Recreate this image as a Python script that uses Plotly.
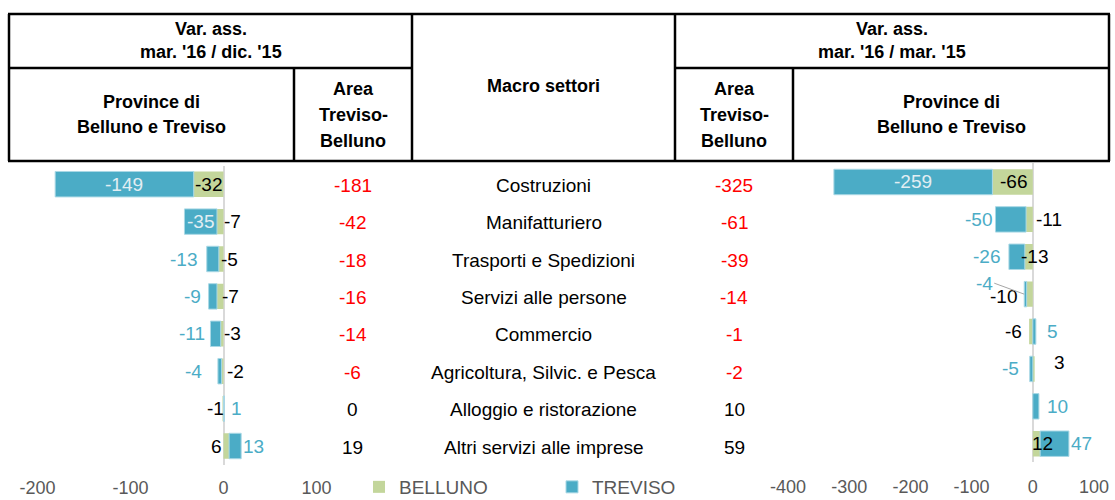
import plotly.graph_objects as go

W, H = 1115, 500

# ---------------- data ----------------
categories = [
    "Costruzioni",
    "Manifatturiero",
    "Trasporti e Spedizioni",
    "Servizi alle persone",
    "Commercio",
    "Agricoltura, Silvic. e Pesca",
    "Alloggio e ristorazione",
    "Altri servizi alle imprese",
]
belluno_dic = [-32, -7, -5, -7, -3, -2, -1, 6]
treviso_dic = [-149, -35, -13, -9, -11, -4, 1, 13]
belluno_mar = [-66, -11, -13, -10, -6, 3, 0, 12]
treviso_mar = [-259, -50, -26, -4, 5, -5, 10, 47]
area_dic = [b + t for b, t in zip(belluno_dic, treviso_dic)]
area_mar = [b + t for b, t in zip(belluno_mar, treviso_mar)]
left_ticks = [-200, -100, 0, 100]
right_ticks = [-400, -300, -200, -100, 0, 100]
series_names = ["BELLUNO", "TREVISO"]

# ---------------- styles ----------------
FONT = "Liberation Sans, Arial, sans-serif"
GREEN = "#C3D69B"
TEAL = "#4BACC6"
LIGHT = "#E2EEF3"
GREY = "#595959"
RED = "#FF0000"
FS = 19


def px(x):
    return x / W


def py(y):
    return 1 - y / H


# label placement: (reference point, xanchor, xshift, yshift)
LAB_L_B = [("zero", "right", -1, 0), ("zero", "left", -1, 0), ("zero", "left", -4, 0),
           ("zero", "left", -3, 0), ("zero", "left", -1, 0), ("zero", "left", 2, 0),
           ("zero", "right", 1, 0), ("zero", "right", -1, 0)]
LAB_L_T = [("mid", "center", 0, 0), ("mid", "center", 0, 0), ("end", "right", -9, 0),
           ("end", "right", -7, 0), ("end", "right", -4, 0), ("end", "right", -15, 0),
           ("end", "left", 6, 0), ("end", "left", 1, 0)]
LAB_R_B = [("zero", "right", -5, 0), ("zero", "left", 2, 0), ("zero", "center", 2, 0),
           ("zero", "right", -15, -2), ("end", "right", -6, 0), ("end", "left", 18, 6),
           ("zero", "left", 0, 0), ("zero", "left", -2, 0)]
LAB_R_T = [("mid", "center", 0, 0), ("end", "right", -2, 0), ("end", "right", -8, 0),
           ("leader", "right", -30, 11), ("end", "left", 10, 0), ("end", "right", -10, 0),
           ("end", "left", 7, 0), ("end", "left", 1, 0)]

fig = go.Figure()

for (bv, tv, xa, ya, show) in [(belluno_dic, treviso_dic, "x", "y", True),
                               (belluno_mar, treviso_mar, "x2", "y2", False)]:
    fig.add_trace(go.Bar(y=categories, x=bv, orientation="h", name=series_names[0],
                         marker=dict(color=GREEN, line=dict(width=0)),
                         xaxis=xa, yaxis=ya, showlegend=show, legendgroup="b"))
    fig.add_trace(go.Bar(y=categories, x=tv, orientation="h", name=series_names[1],
                         marker=dict(color=TEAL, line=dict(width=1, color="#A9D8E5")),
                         xaxis=xa, yaxis=ya, showlegend=show, legendgroup="t"))

annotations = []


def add_labels(bvals, tvals, xref, yref, spec_b, spec_t):
    for i, cat in enumerate(categories):
        b, t = bvals[i], tvals[i]
        b_start, b_end = 0, b
        if b != 0 and (b < 0) == (t < 0):
            t_start, t_end = b, b + t
        else:
            t_start, t_end = 0, t
        for val, st, en, spec, is_t in [(b, b_start, b_end, spec_b[i], False),
                                        (t, t_start, t_end, spec_t[i], True)]:
            if val == 0:
                continue
            ref, xanc, xs, ys = spec
            if is_t:
                col = LIGHT if ref == "mid" else TEAL
            else:
                col = "#000000"
            if ref == "leader":
                annotations.append(dict(
                    x=en, y=cat, xref=xref, yref=yref, text=str(val),
                    showarrow=True, arrowhead=0, arrowwidth=1, arrowcolor="#A6A6A6",
                    ax=xs, ay=-ys, xanchor="right", yanchor="middle", standoff=0,
                    font=dict(family=FONT, size=FS, color=col), borderpad=0))
                continue
            x = 0 if ref == "zero" else (en if ref == "end" else (st + en) / 2)
            annotations.append(dict(
                x=x, y=cat, xref=xref, yref=yref, text=str(val), showarrow=False,
                xanchor=xanc, yanchor="middle", xshift=xs, yshift=ys, borderpad=0,
                font=dict(family=FONT, size=FS, color=col)))


add_labels(belluno_dic, treviso_dic, "x", "y", LAB_L_B, LAB_L_T)
add_labels(belluno_mar, treviso_mar, "x2", "y2", LAB_R_B, LAB_R_T)

# middle columns
for i, cat in enumerate(categories):
    annotations.append(dict(x=px(352.5), y=cat, xref="paper", yref="y", text=str(area_dic[i]),
                            showarrow=False, xanchor="center", yanchor="middle", yshift=-1,
                            font=dict(family=FONT, size=FS, color=RED if area_dic[i] < 0 else "#000000")))
    annotations.append(dict(x=px(543.5), y=cat, xref="paper", yref="y", text=cat,
                            showarrow=False, xanchor="center", yanchor="middle", yshift=-1,
                            font=dict(family=FONT, size=FS, color="#000000")))
    annotations.append(dict(x=px(734), y=cat, xref="paper", yref="y", text=str(area_mar[i]),
                            showarrow=False, xanchor="center", yanchor="middle", yshift=-1,
                            font=dict(family=FONT, size=FS, color=RED if area_mar[i] < 0 else "#000000")))

# header table texts
header_texts = [
    ("Var. ass.", 210.5, 29), ("mar. '16 / dic. '15", 210.5, 52),
    ("Province di", 151.5, 102), ("Belluno e Treviso", 151.5, 127),
    ("Area", 353, 89), ("Treviso-", 353, 115), ("Belluno", 353, 141),
    ("Macro settori", 543.5, 86),
    ("Area", 734, 89), ("Treviso-", 734, 115), ("Belluno", 734, 141),
    ("Var. ass.", 892, 29), ("mar. '16 / mar. '15", 892, 52),
    ("Province di", 951, 102), ("Belluno e Treviso", 951, 127),
]
for txt, x, y in header_texts:
    annotations.append(dict(x=px(x), y=py(y), xref="paper", yref="paper", text="<b>%s</b>" % txt,
                            showarrow=False, xanchor="center", yanchor="middle",
                            font=dict(family=FONT, size=18, color="#000000")))

# header table lines
shapes = []
LW = 2.5


def hline(x0, x1, y):
    shapes.append(dict(type="line", xref="paper", yref="paper", x0=px(x0), x1=px(x1),
                       y0=py(y), y1=py(y), line=dict(color="#000000", width=LW)))


def vline(x, y0, y1):
    shapes.append(dict(type="line", xref="paper", yref="paper", x0=px(x), x1=px(x),
                       y0=py(y0), y1=py(y1), line=dict(color="#000000", width=LW)))


hline(8, 1110, 14)
hline(8, 1110, 161)
hline(9, 412, 68)
hline(675, 1109, 68)
for xv in (9, 412, 675, 1109):
    vline(xv, 14, 161)
vline(294, 68, 161)
vline(793, 68, 161)

axis_common = dict(showgrid=False, zeroline=True, zerolinecolor="#D9D9D9", zerolinewidth=2,
                   showline=False, ticks="", tickfont=dict(family=FONT, size=18, color=GREY),
                   fixedrange=True, automargin=False)
yaxis_common = dict(type="category", autorange="reversed", showticklabels=False, showgrid=False,
                    zeroline=False, showline=False, ticks="", fixedrange=True, automargin=False)

fig.update_layout(
    width=W, height=H, autosize=False,
    margin=dict(l=0, r=0, t=0, b=0, autoexpand=False),
    paper_bgcolor="white", plot_bgcolor="white",
    barmode="relative", bargap=0.32,
    font=dict(family=FONT, size=FS, color="#000000"),
    xaxis=dict(domain=[px(37.5), px(316.5)], range=[-200, 100], tickvals=left_ticks,
               ticktext=[str(v) for v in left_ticks],
               anchor="y", ticklabelstandoff=10, **axis_common),
    yaxis=dict(domain=[py(464.7), py(165.5)], anchor="x", **yaxis_common),
    xaxis2=dict(domain=[px(788), px(1094)], range=[-400, 100], tickvals=right_ticks,
                ticktext=[str(v) for v in right_ticks],
                anchor="y2", ticklabelstandoff=12, **axis_common),
    yaxis2=dict(domain=[py(462.4), py(163.3)], anchor="x2", **yaxis_common),
    legend=dict(orientation="h", x=px(359), y=-0.012, xanchor="left", yanchor="bottom",
                font=dict(family=FONT, size=FS, color=GREY), entrywidth=148,
                entrywidthmode="pixels", bgcolor="rgba(0,0,0,0)", borderwidth=0,
                traceorder="normal", tracegroupgap=0),
    annotations=annotations,
    shapes=shapes,
    showlegend=True,
)

fig.write_html("out.html", post_script="document.body.style.margin='0';",
               config={"displayModeBar": False})
